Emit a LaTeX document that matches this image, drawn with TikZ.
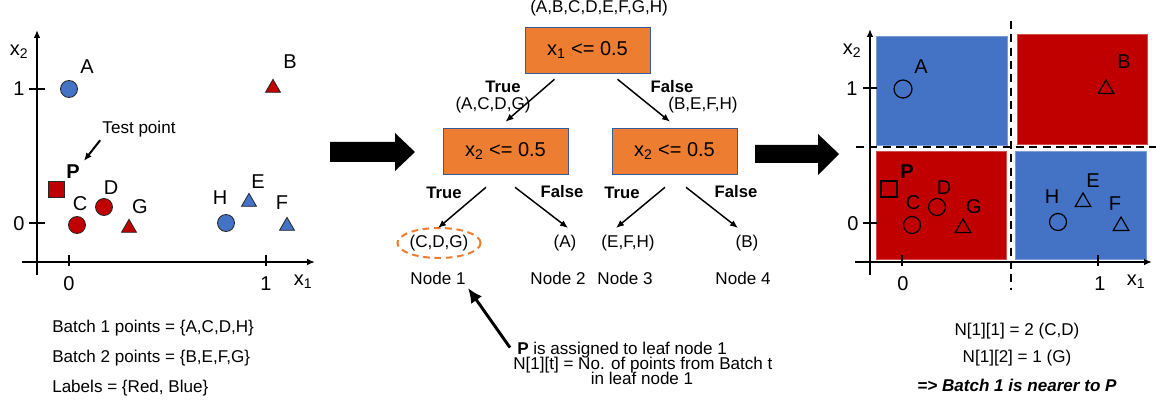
\documentclass[tikz,border=0pt]{standalone}
\usepackage{fontspec}
\setmainfont{Liberation Sans}
\usetikzlibrary{shapes.geometric,arrows.meta}
\definecolor{ptblue}{HTML}{4472C4}
\definecolor{ptred}{HTML}{C00000}
\definecolor{boxorange}{HTML}{ED7D31}

\begin{document}
\begin{tikzpicture}[x=0.75pt, y=-0.75pt, >={Latex[length=6pt,width=5pt]},
        font=\fontsize{12.8}{15}\selectfont,
        txt/.style = {inner sep=0pt},
        big/.style = {inner sep=0pt, font=\fontsize{15}{18}\selectfont},
        dot/.style = {draw=black!85, circle, inner sep=0pt, minimum size=12.75pt, line width=0.6pt},
        tri/.style = {draw=black!85, regular polygon, regular polygon sides=3, inner sep=0pt, minimum size=13pt, line width=0.6pt},
        sq/.style = {draw=black!85, rectangle, inner sep=0pt, minimum size=12pt, line width=0.6pt},
        axis/.style = {line width=1.5pt},
        test/.style = {draw=ptblue!80!black, fill=boxorange, minimum width=94pt, minimum height=34.5pt, font=\fontsize{15}{18}\selectfont},
        tf/.style = {inner sep=0pt, font=\fontsize{12.5}{15}\selectfont\bfseries},
        edge/.style = {->, line width=1.1pt}]

    \useasboundingbox (0,0) rectangle (1156,406);

    % left: the data points
    \draw[axis, ->] (37,275) -- (37,30);
    \draw[axis, ->] (22,262) -- (315,262);
    \draw[axis] (69,255) -- (69,266);
    \draw[axis] (266,255) -- (266,266);
    \draw[axis] (29,89) -- (45,89);
    \draw[axis] (29,223) -- (45,223);
    \node[big] (ly2) at (19,52) {x\textsubscript{2}};
    \node[big] (ly1) at (19,89) {1};
    \node[big] (ly0) at (19,224) {0};
    \node[big] (lx0) at (69,284) {0};
    \node[big] (lx1) at (266,284) {1};
    \node[big] (lxx) at (303,282) {x\textsubscript{1}};

    \node[dot, fill=ptblue] (pA) at (69,89) {};
    \node[big] (lA) at (87,67) {A};
    \node[tri, fill=ptred] (pB) at (273,88) {};
    \node[big] (lB) at (290,62) {B};
    \node[txt] (ltest) at (139,129) {Test point};
    \node[big, font=\fontsize{15}{18}\selectfont\bfseries] (lP) at (73,172) {P};
    \node[sq, fill=ptred] (pP) at (56,189) {};
    \node[dot, fill=ptred] (pC) at (77,225) {};
    \node[big] (lC) at (80,204) {C};
    \node[dot, fill=ptred] (pD) at (104,207) {};
    \node[big] (lD) at (111,188) {D};
    \node[tri, fill=ptred] (pG) at (129,228) {};
    \node[big] (lG) at (140,207) {G};
    \node[dot, fill=ptblue] (pH) at (226,223) {};
    \node[big] (lH) at (220,198) {H};
    \node[tri, fill=ptblue] (pE) at (249,202) {};
    \node[big] (lE) at (258,182) {E};
    \node[tri, fill=ptblue] (pF) at (287,226) {};
    \node[big] (lF) at (282,203) {F};
    \draw[->, line width=1.5pt] ([shift={(-2,3)}]ltest.south west) -- ([shift={(4,-4)}]lP.north east);

    \node[txt, anchor=base west] (batch1) at (52,332) {Batch 1 points = \{A,C,D,H\}};
    \node[txt, anchor=base west] (batch2) at (52,362) {Batch 2 points = \{B,E,F,G\}};
    \node[txt, anchor=base west] (labels) at (52,392) {Labels = \{Red, Blue\}};

    % block arrows
    \fill (330,142) -- (395,142) -- (395,133) -- (415,152) -- (395,171) -- (395,162) -- (330,162) -- cycle;
    \fill (755,145) -- (818,145) -- (818,134) -- (839,154) -- (818,175) -- (818,163) -- (755,163) -- cycle;

    % middle: the tree
    \node[txt] (all) at (599,8) {(A,B,C,D,E,F,G,H)};
    \node[test] (root) at (587.5,50) {x\textsubscript{1} <= 0.5};
    \node[test] (lc) at (505.5,151) {x\textsubscript{2} <= 0.5};
    \node[test] (rc) at (674.5,151) {x\textsubscript{2} <= 0.5};

    \draw[edge] ([shift={(-33,6)}]root.south) -- ([shift={(0,-6)}]lc.north);
    \draw[edge] ([shift={(30,6)}]root.south) -- ([shift={(-4.5,-6)}]rc.north);
    \node[tf] (t0) at (503,87) {True};
    \node[tf] (f0) at (672,87) {False};
    \node[txt] (sl) at (493,105) {(A,C,D,G)};
    \node[txt] (sr) at (703,105) {(B,E,F,H)};

    \node[ellipse, draw=boxorange, dashed, dash pattern=on 5pt off 3.5pt, line width=1.5pt, inner sep=0pt,
          minimum width=61.5pt, minimum height=22.5pt] (leaf1) at (439,243) {(C,D,G)};
    \node[txt] (leaf2) at (565,243) {(A)};
    \node[txt] (leaf3) at (628,243) {(E,F,H)};
    \node[txt] (leaf4) at (747,243) {(B)};

    \draw[edge] ([shift={(-19.5,13)}]lc.south) -- ([shift={(-1,-15)}]leaf1.center);
    \draw[edge] ([shift={(9.5,13)}]lc.south) -- ([shift={(3,-15)}]leaf2.center);
    \draw[edge] ([shift={(-9.5,13)}]rc.south) -- ([shift={(-12,-15)}]leaf3.center);
    \draw[edge] ([shift={(11.5,13)}]rc.south) -- ([shift={(-9,-15)}]leaf4.center);
    \node[tf] (t1) at (444,193) {True};
    \node[tf] (f1) at (562,192) {False};
    \node[tf] (t2) at (622,193) {True};
    \node[tf] (f2) at (736,192) {False};

    \node[txt] (nd1) at (438,278) {Node 1};
    \node[txt] (nd2) at (558,278) {Node 2};
    \node[txt] (nd3) at (625,278) {Node 3};
    \node[txt] (nd4) at (743,278) {Node 4};

    \node[txt, anchor=base west] (note1) at (517,354) {\textbf{P} is assigned to leaf node 1};
    \node[txt, anchor=base west] (note2) at (513,369) {N[1][t] = No. of points from Batch t};
    \node[txt, anchor=base] (note3) at (642,384) {in leaf node 1};
    \draw[-{Latex[length=11pt,width=10pt]}, line width=2.2pt] ([shift={(-7,-2)}]note1.west) -- ([shift={(30,10)}]nd1.center);

    % right: the partition
    \fill[ptblue, draw=ptblue!70!white] (876,36) rectangle (1007,145);
    \fill[ptred, draw=ptred!70!white] (1017,34) rectangle (1147,144);
    \fill[ptred, draw=ptred!70!white] (876,151) rectangle (1006,259);
    \fill[ptblue, draw=ptblue!70!white] (1015,151) rectangle (1146,259);
    \draw[line width=1.5pt, dash pattern=on 6pt off 4pt] (1011,21) -- (1011,290);
    \draw[line width=1.5pt, dash pattern=on 6pt off 4pt] (856,147) -- (1156,147);

    \draw[axis, ->] (870,275) -- (870,29);
    \draw[axis, ->] (855,262) -- (1152,262);
    \draw[axis] (902,255) -- (902,266);
    \draw[axis] (1098,255) -- (1098,266);
    \draw[axis] (863,88) -- (877,88);
    \draw[axis] (863,223) -- (877,223);
    \node[big] (ry2) at (852,51) {x\textsubscript{2}};
    \node[big] (ry1) at (852,89) {1};
    \node[big] (ry0) at (853,224) {0};
    \node[big] (rx0) at (903,284) {0};
    \node[big] (rx1) at (1100,284) {1};
    \node[big] (rxx) at (1136,282) {x\textsubscript{1}};

    \node[dot, draw=black, line width=0.9pt, minimum size=13.5pt] (qA) at (903,89) {};
    \node[big] (mA) at (921,67) {A};
    \node[tri, draw=black, line width=0.9pt, minimum size=13.5pt] (qB) at (1106,89) {};
    \node[big] (mB) at (1124,62) {B};
    \node[big, font=\fontsize{15}{18}\selectfont\bfseries] (mP) at (907,172) {P};
    \node[sq, draw=black, line width=0.9pt] (qP) at (889,189) {};
    \node[dot, draw=black, line width=0.9pt] (qC) at (912,225) {};
    \node[big] (mC) at (913,203) {C};
    \node[dot, draw=black, line width=0.9pt] (qD) at (937,207) {};
    \node[big] (mD) at (944,188) {D};
    \node[tri, draw=black, line width=0.9pt, minimum size=13.5pt] (qG) at (963,228) {};
    \node[big] (mG) at (974,207) {G};
    \node[dot, draw=black, line width=0.9pt] (qH) at (1058,222) {};
    \node[big] (mH) at (1052,197) {H};
    \node[tri, draw=black, line width=0.9pt, minimum size=13.5pt] (qE) at (1083,202) {};
    \node[big] (mE) at (1093,181) {E};
    \node[tri, draw=black, line width=0.9pt, minimum size=13.5pt] (qF) at (1121,226) {};
    \node[big] (mF) at (1115,204) {F};

    \node[txt, anchor=base] (cnt1) at (1017,335) {N[1][1] = 2 (C,D)};
    \node[txt, anchor=base] (cnt2) at (1017,362) {N[1][2] = 1 (G)};
    \node[txt, anchor=base, font=\fontsize{12.8}{15}\selectfont\bfseries\itshape] (verdict) at (1017,391) {=> Batch 1 is nearer to P};

\end{tikzpicture}
\end{document}
